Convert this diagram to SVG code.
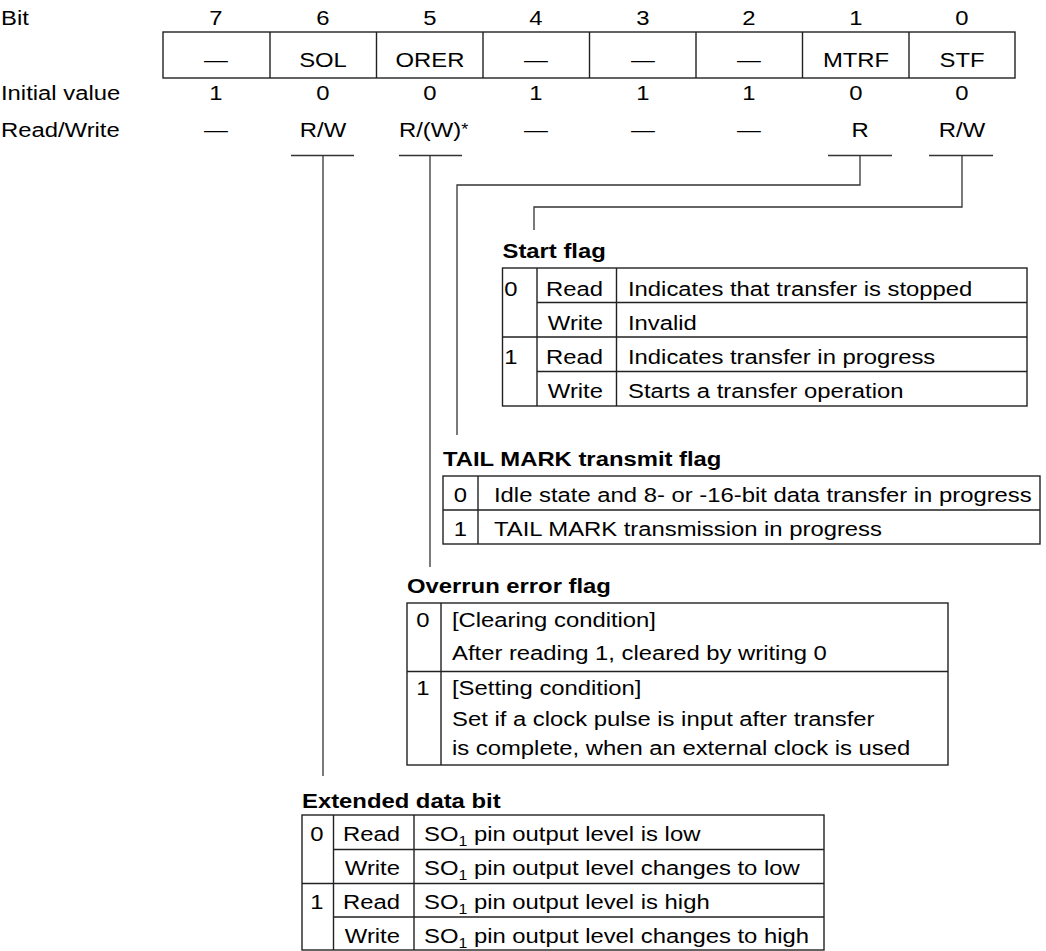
<svg xmlns="http://www.w3.org/2000/svg" width="1046" height="951" viewBox="0 0 1046 951">
<style>
text{font-family:"Liberation Sans",Arial,Helvetica,sans-serif;font-size:21px;fill:#000}
.b{font-weight:bold}
.m{text-anchor:middle}
.e{text-anchor:end}
.ln{stroke:#333;stroke-width:1.3;fill:none}
.bx{stroke:#222;stroke-width:1.4;fill:none}
.sub{font-size:14px}
</style>
<rect width="1046" height="951" fill="#fff"/>
<g id="register">
<text transform="translate(1,25) scale(1.135,1)">Bit</text>
<text class="m" transform="translate(216,25) scale(1.135,1)">7</text>
<text class="m" transform="translate(323,25) scale(1.135,1)">6</text>
<text class="m" transform="translate(430,25) scale(1.135,1)">5</text>
<text class="m" transform="translate(536,25) scale(1.135,1)">4</text>
<text class="m" transform="translate(643,25) scale(1.135,1)">3</text>
<text class="m" transform="translate(749,25) scale(1.135,1)">2</text>
<text class="m" transform="translate(856,25) scale(1.135,1)">1</text>
<text class="m" transform="translate(962,25) scale(1.135,1)">0</text>
<rect class="bx" x="163" y="32" width="852" height="46"/>
<path class="bx" d="M270,32V78M376.5,32V78M483,32V78M589.5,32V78M696,32V78M802.5,32V78M909,32V78"/>
<text class="m" transform="translate(216,66.5) scale(1.135,1)">—</text>
<text class="m" transform="translate(323,66.5) scale(1.135,1)">SOL</text>
<text class="m" transform="translate(430,66.5) scale(1.135,1)">ORER</text>
<text class="m" transform="translate(536,66.5) scale(1.135,1)">—</text>
<text class="m" transform="translate(643,66.5) scale(1.135,1)">—</text>
<text class="m" transform="translate(749,66.5) scale(1.135,1)">—</text>
<text class="m" transform="translate(856,66.5) scale(1.135,1)">MTRF</text>
<text class="m" transform="translate(962,66.5) scale(1.135,1)">STF</text>
<text transform="translate(1,100) scale(1.135,1)">Initial value</text>
<text class="m" transform="translate(216,100) scale(1.135,1)">1</text>
<text class="m" transform="translate(323,100) scale(1.135,1)">0</text>
<text class="m" transform="translate(430,100) scale(1.135,1)">0</text>
<text class="m" transform="translate(536,100) scale(1.135,1)">1</text>
<text class="m" transform="translate(643,100) scale(1.135,1)">1</text>
<text class="m" transform="translate(749,100) scale(1.135,1)">1</text>
<text class="m" transform="translate(856,100) scale(1.135,1)">0</text>
<text class="m" transform="translate(962,100) scale(1.135,1)">0</text>
<text transform="translate(1,136.5) scale(1.135,1)">Read/Write</text>
<text class="m" transform="translate(216,136.5) scale(1.135,1)">—</text>
<text class="m" transform="translate(323,136.5) scale(1.135,1)">R/W</text>
<text transform="translate(399,136.5) scale(1.135,1)">R/(W)<tspan font-size="16" dy="-2">*</tspan></text>
<text class="m" transform="translate(536,136.5) scale(1.135,1)">—</text>
<text class="m" transform="translate(643,136.5) scale(1.135,1)">—</text>
<text class="m" transform="translate(749,136.5) scale(1.135,1)">—</text>
<text class="m" transform="translate(860,136.5) scale(1.135,1)">R</text>
<text class="m" transform="translate(962,136.5) scale(1.135,1)">R/W</text>
</g>
<g id="connectors">
<path class="ln" d="M291,155.5H354M399,155.5H462M828,155.5H892M929,155.5H993"/>
<path class="ln" d="M323,155.5V776"/>
<path class="ln" d="M430,155.5V567"/>
<path class="ln" d="M860,155.5V185H457V435"/>
<path class="ln" d="M962,155.5V207H534V230"/>
</g>
<g id="start-flag">
<text class="b" transform="translate(502.5,258) scale(1.135,1)">Start flag</text>
<rect class="bx" x="502.5" y="268" width="524.5" height="138"/>
<path class="bx" d="M537,268V406M616.5,268V406M537,302.5H1027M502.5,337H1027M537,371.5H1027"/>
<text class="m" transform="translate(511,295.5) scale(1.135,1)">0</text>
<text class="e" transform="translate(603,295.5) scale(1.135,1)">Read</text>
<text transform="translate(628,295.5) scale(1.135,1)">Indicates that transfer is stopped</text>
<text class="e" transform="translate(603,329.5) scale(1.135,1)">Write</text>
<text transform="translate(628,329.5) scale(1.135,1)">Invalid</text>
<text class="m" transform="translate(511,364) scale(1.135,1)">1</text>
<text class="e" transform="translate(603,364) scale(1.135,1)">Read</text>
<text transform="translate(628,364) scale(1.135,1)">Indicates transfer in progress</text>
<text class="e" transform="translate(603,398) scale(1.135,1)">Write</text>
<text transform="translate(628,398) scale(1.135,1)">Starts a transfer operation</text>
</g>
<g id="tail-mark">
<text class="b" transform="translate(443,466) scale(1.135,1)">TAIL MARK transmit flag</text>
<rect class="bx" x="443" y="476" width="597" height="68"/>
<path class="bx" d="M478,476V544M443,510H1040"/>
<text class="m" transform="translate(460.5,502) scale(1.135,1)">0</text>
<text transform="translate(494,502) scale(1.135,1)">Idle state and 8- or -16-bit data transfer in progress</text>
<text class="m" transform="translate(460.5,536) scale(1.135,1)">1</text>
<text transform="translate(494,536) scale(1.135,1)">TAIL MARK transmission in progress</text>
</g>
<g id="overrun">
<text class="b" transform="translate(407,593) scale(1.135,1)">Overrun error flag</text>
<rect class="bx" x="407" y="603" width="541" height="162"/>
<path class="bx" d="M441,603V765M407,671.5H948"/>
<text class="m" transform="translate(423,627) scale(1.135,1)">0</text>
<text transform="translate(452,627) scale(1.135,1)">[Clearing condition]</text>
<text transform="translate(452,660) scale(1.135,1)">After reading 1, cleared by writing 0</text>
<text class="m" transform="translate(423,695) scale(1.135,1)">1</text>
<text transform="translate(452,695) scale(1.135,1)">[Setting condition]</text>
<text transform="translate(452,726) scale(1.135,1)">Set if a clock pulse is input after transfer</text>
<text transform="translate(452,755) scale(1.135,1)">is complete, when an external clock is used</text>
</g>
<g id="extended">
<text class="b" transform="translate(302,808) scale(1.135,1)">Extended data bit</text>
<rect class="bx" x="302" y="815" width="522" height="135"/>
<path class="bx" d="M333.5,815V950M414,815V950M333.5,849.5H824M302,883.5H824M333.5,917H824"/>
<text class="m" transform="translate(317,841) scale(1.135,1)">0</text>
<text class="e" transform="translate(400,841) scale(1.135,1)">Read</text>
<text transform="translate(424,841) scale(1.135,1)">SO<tspan class="sub" dy="5">1</tspan><tspan dy="-5"> pin output level is low</tspan></text>
<text class="e" transform="translate(400,875) scale(1.135,1)">Write</text>
<text transform="translate(424,875) scale(1.135,1)">SO<tspan class="sub" dy="5">1</tspan><tspan dy="-5"> pin output level changes to low</tspan></text>
<text class="m" transform="translate(317,909) scale(1.135,1)">1</text>
<text class="e" transform="translate(400,909) scale(1.135,1)">Read</text>
<text transform="translate(424,909) scale(1.135,1)">SO<tspan class="sub" dy="5">1</tspan><tspan dy="-5"> pin output level is high</tspan></text>
<text class="e" transform="translate(400,943) scale(1.135,1)">Write</text>
<text transform="translate(424,943) scale(1.135,1)">SO<tspan class="sub" dy="5">1</tspan><tspan dy="-5"> pin output level changes to high</tspan></text>
</g>
</svg>
